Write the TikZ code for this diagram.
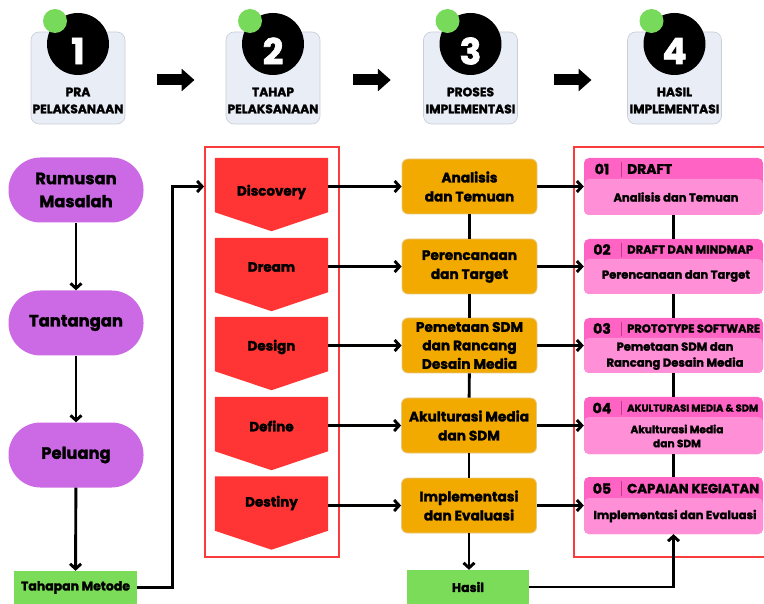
\documentclass[tikz,border=0pt]{standalone}
\usepackage{fontspec}
\setmainfont{Poppins}[BoldFeatures={FakeBold=1.8}]
\usetikzlibrary{arrows.meta,calc}
\definecolor{cardfill}{RGB}{232,237,246}
\definecolor{cardline}{RGB}{200,205,215}
\definecolor{dotgreen}{RGB}{120,218,90}
\definecolor{pillpurple}{RGB}{203,106,228}
\definecolor{boxgreen}{RGB}{122,220,88}
\definecolor{chevred}{RGB}{255,52,52}
\definecolor{framered}{RGB}{250,60,60}
\definecolor{boxorange}{RGB}{242,170,0}
\definecolor{oline}{RGB}{228,200,140}
\definecolor{pinkhead}{RGB}{255,100,196}
\definecolor{pinkbody}{RGB}{255,143,214}
\definecolor{pinkline}{RGB}{190,60,140}
\newlength\fitlen
\newcommand\fitfnt[3]{%
  \settowidth\fitlen{\fontsize{10}{12}\selectfont\bfseries #3}%
  \pgfmathsetmacro\fitsz{10*#1/\fitlen}%
  \fontsize{\fitsz}{#2}\selectfont\bfseries}
\tikzset{
  card/.style={draw=cardline, fill=cardfill, rounded corners=8, minimum width=94, minimum height=92, line width=0.6},
  numcirc/.style={circle, fill=black, minimum size=62, inner sep=0},
  numtxt/.style={text=white, font=\fontsize{36}{36}\selectfont\bfseries, inner sep=0},
  dot/.style={circle, fill=dotgreen, minimum size=24, inner sep=0},
  cardlbl/.style={align=center, inner sep=0, font=\fitfnt{91}{17}{PELAKSANAAN}},
  blockarr/.style={line width=11, -{Triangle[length=13pt,width=22pt]}},
  pill/.style={fill=pillpurple, rounded corners=32, minimum width=135, minimum height=65, align=center, font=\fitfnt{94}{23}{Tantangan}},
  greenbox/.style={fill=boxgreen, minimum width=123, minimum height=33, inner sep=0},
  arr/.style={line width=2.9, -{Straight Barb[length=5pt,width=11pt]}},
  link/.style={line width=2.9},
  chevbody/.style={minimum width=113, minimum height=54, inner sep=0},
  chevtxt/.style={inner sep=0, font=\fitfnt{69}{14}{Discovery}},
  redframe/.style={draw=framered, line width=1.8},
  obox/.style={fill=boxorange, draw=oline, line width=0.8, rounded corners=6, minimum width=135, minimum height=55, align=center, inner sep=1, font=\fitfnt{120}{19}{Akulturasi Media}},
  pbox/.style={fill=pinkhead, rounded corners=5, minimum width=179, inner sep=0},
  ptxt/.style={inner sep=0, align=center},
}
\begin{document}
\begin{tikzpicture}[x=1pt,y=-1pt]
\useasboundingbox (0,0) rectangle (764,604);

% ---- top cards
\foreach \i/\x/\la/\lb in {1/78/PRA/PELAKSANAAN, 2/273/TAHAP/PELAKSANAAN, 3/470.5/PROSES/IMPLEMENTASI, 4/674.5/HASIL/IMPLEMENTASI}{
  \node[card] (k\i) at (\x,78) {};
  \node[numcirc] (n\i) at (\x,44) {};
  \node[numtxt] (d\i) at (\x,51) {\i};
  \node[dot] (g\i) at ($(n\i)+(-23,-23)$) {};
  \node[cardlbl] (l\i) at (\x,100.5) {\la\\\lb};
}
\foreach \a/\b in {1/2,2/3,3/4}{
  \coordinate (m\a) at ($(k\a.east)!0.5!(k\b.west)$);
  \draw[blockarr] ($(m\a)+(-19,2)$) -- ($(m\a)+(19,2)$);
}

% ---- left column
\node[pill] (r1) at (76,190) {Rumusan\\Masalah};
\node[pill] (r2) at (76,323) {Tantangan};
\node[pill] (r3) at (76,455) {Peluang};
\node[greenbox, font=\fitfnt{109}{12}{Tahapan Metode}] (tm) at (75.5,587.5) {Tahapan Metode};
\draw[arr] (r1) -- (r2);
\draw[arr] (r2) -- (r3);
\draw[arr] (r3) -- (tm);

% ---- chevrons
\node[redframe, minimum width=134, minimum height=410, inner sep=0] (rf) at (272,352) {};
\foreach \i/\y/\ty/\t in {1/185/192/Discovery, 2/265/267/Dream, 3/344/347/Design, 4/424/426/Define, 5/503.5/503/Destiny}{
  \node[chevbody] (c\i) at (271.5,\y) {};
  \fill[chevred] (c\i.north west) -- (c\i.north east) -- (c\i.south east) -- ($(c\i.south)+(0,19)$) -- (c\i.south west) -- cycle;
  \node[chevtxt] (ct\i) at (271.5,\ty) {\t};
}

% ---- orange boxes
\node[obox] (o1) at (469.5,186.5) {Analisis\\dan Temuan};
\node[obox] (o2) at (469.5,266.5) {Perencanaan\\dan Target};
\node[obox, font=\fitfnt{120}{18.5}{Akulturasi Media}] (o3) at (469.5,345.5) {Pemetaan SDM\\dan Rancang\\Desain Media};
\node[obox] (o4) at (469,425.5) {Akulturasi Media\\dan SDM};
\node[obox] (o5) at (469,505.5) {Implementasi\\dan Evaluasi};
\node[greenbox, minimum width=122, minimum height=34, font=\fitfnt{32}{12}{Hasil}] (hs) at (468,587) {Hasil};

% ---- right frame and pink boxes
\draw[redframe] (764,147) -| (574,557) -- (764,557);
\foreach \i/\t/\h/\b in {1/158/179/215, 2/239/259/294, 3/318/338/373, 4/397/417/454, 5/477/498/534}{
  \node[pbox, minimum height=\b-\t] (p\i) at (673.5,{(\t+\b)/2}) {};
  \fill[pinkbody, rounded corners=5] (584,\h) rectangle (763,\b);
  \draw[pinkline, line width=0.6] (621,\t+4) -- (621,\h-2);
}
\foreach \i/\y in {1/169, 2/249.5, 3/328.5, 4/408, 5/488.5}{
  \node[ptxt, font=\fitfnt{14.5}{12}{01}] (pn\i) at (602,\y) {0\i};
}
\node[ptxt, anchor=west, font=\fitfnt{45}{12}{DRAFT}] (pt1) at (627,169) {DRAFT};
\node[ptxt, anchor=west, font=\fitfnt{126}{12}{DRAFT DAN MINDMAP}] (pt2) at (627,249.5) {DRAFT DAN MINDMAP};
\node[ptxt, anchor=west, font=\fitfnt{133}{12}{PROTOTYPE SOFTWARE}] (pt3) at (627,328.5) {PROTOTYPE SOFTWARE};
\node[ptxt, anchor=west, font=\fitfnt{131}{12}{AKULTURASI MEDIA \& SDM}] (pt4) at (627,408) {AKULTURASI MEDIA \& SDM};
\node[ptxt, anchor=west, font=\fitfnt{132}{12}{CAPAIAN KEGIATAN}] (pt5) at (627,488.5) {CAPAIAN KEGIATAN};

\node[ptxt, font=\fitfnt{125}{14}{Analisis dan Temuan}] (pb1) at (676,197) {Analisis dan Temuan};
\node[ptxt, font=\fitfnt{148}{14}{Perencanaan dan Target}] (pb2) at (676,276) {Perencanaan dan Target};
\node[ptxt, font=\fitfnt{137}{16}{Rancang Desain Media}] (pb3) at (675,356) {Pemetaan SDM dan\\Rancang Desain Media};
\node[ptxt, font=\fitfnt{93}{14}{Akulturasi Media}] (pb4) at (677,436) {Akulturasi Media\\dan SDM};
\node[ptxt, font=\fitfnt{163}{14}{Implementasi dan Evaluasi}] (pb5) at (675,516) {Implementasi dan Evaluasi};

% ---- connectors
\draw[arr] (tm.east) -- ++(35,0) |- (rf.west |- o1.west);
\foreach \i in {1,...,5}{
  \draw[arr] (o\i.west -| c\i.east) -- (o\i.west);
  \draw[arr] (o\i.east) -- (o\i.east -| p\i.west);
}
\foreach \a/\b in {1/2,2/3,3/4,4/5}{
  \draw[link] (o\a) -- (o\b);
  \draw[link] (p\a) -- (p\b);
}
\draw[arr] (o5) -- (o5.south |- hs.north);
\draw[arr] (hs.east) -| (p5.south);
\end{tikzpicture}
\end{document}
